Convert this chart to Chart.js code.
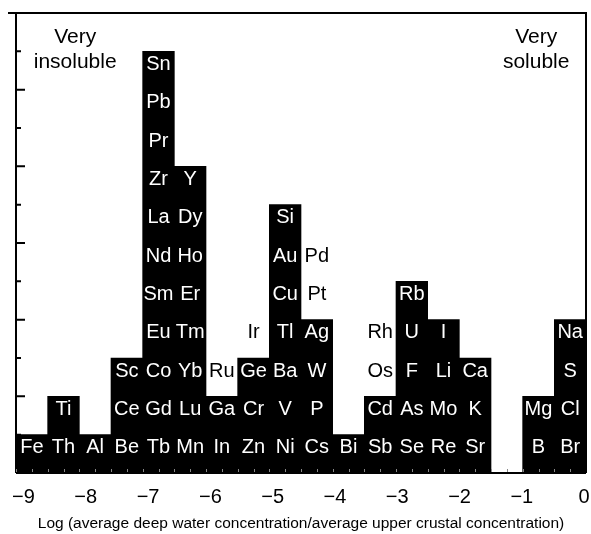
<!DOCTYPE html>
<html>
<head>
<meta charset="utf-8">
<script src="https://cdn.jsdelivr.net/npm/chart.js@4"></script>
<style>
  html, body { margin: 0; padding: 0; background: #fff; }
</style>
</head>
<body>
<canvas id="chart" width="591" height="534"></canvas>
<script>
// Bins of the log ratio, left to right
const bins = ['1', '2', '3', '4', '5', '6', '7', '8', '9', '10', '11', '12', '13', '14', '15', '16', '17', '18'];
// Number of elements in each bin (black bars)
const counts = [1, 2, 1, 3, 11, 8, 2, 3, 7, 4, 1, 2, 5, 4, 3, 0, 2, 4];
// Elements inside each bar, bottom to top
const filled = [
  ['Fe'],
  ['Th', 'Ti'],
  ['Al'],
  ['Be', 'Ce', 'Sc'],
  ['Tb', 'Gd', 'Co', 'Eu', 'Sm', 'Nd', 'La', 'Zr', 'Pr', 'Pb', 'Sn'],
  ['Mn', 'Lu', 'Yb', 'Tm', 'Er', 'Ho', 'Dy', 'Y'],
  ['In', 'Ga'],
  ['Zn', 'Cr', 'Ge'],
  ['Ni', 'V', 'Ba', 'Tl', 'Cu', 'Au', 'Si'],
  ['Cs', 'P', 'W', 'Ag'],
  ['Bi'],
  ['Sb', 'Cd'],
  ['Se', 'As', 'F', 'U', 'Rb'],
  ['Re', 'Mo', 'Li', 'I'],
  ['Sr', 'K', 'Ca'],
  [],
  ['B', 'Mg'],
  ['Br', 'Cl', 'S', 'Na'],
];
// Elements written above the bars (open cells)
const open = [[], [], [], [], [], [], ['Ru'], ['Ir'], [], ['Pt', 'Pd'], [], ['Os', 'Rh'], [], [], [], [], [], []];
const xTicks = [-9, -8, -7, -6, -5, -4, -3, -2, -1, 0];
const yTicks = [1, 2, 3, 4, 5, 6, 7, 8, 9, 10, 11];

const FONT = '"Liberation Sans", Arial, sans-serif';

const cellLabels = {
  id: 'cellLabels',
  afterDatasetsDraw(chart) {
    const { ctx, scales: { x, y, x2 } } = chart;
    ctx.save();
    ctx.font = '20px ' + FONT;
    ctx.textAlign = 'center';
    ctx.textBaseline = 'middle';
    bins.forEach((b, i) => {
      const cx = x.getPixelForValue(i);
      ctx.fillStyle = '#fff';
      filled[i].forEach((el, r) => ctx.fillText(el, cx, y.getPixelForValue(r + 0.5) - 6));
      ctx.fillStyle = '#000';
      open[i].forEach((el, r) => ctx.fillText(el, cx, y.getPixelForValue(counts[i] + r + 0.5) - 6));
    });
    // side notes
    ctx.font = '21px ' + FONT;
    ctx.fillText('Very', x2.getPixelForValue(-8.17), 37);
    ctx.fillText('insoluble', x2.getPixelForValue(-8.17), 62);
    ctx.fillText('Very', x2.getPixelForValue(-0.77), 37);
    ctx.fillText('soluble', x2.getPixelForValue(-0.77), 62);
    ctx.restore();
  },
  afterDraw(chart) {
    const { ctx, chartArea: a, scales: { x, y } } = chart;
    ctx.save();
    ctx.strokeStyle = '#000';
    ctx.lineWidth = 2;
    ctx.beginPath();
    ctx.moveTo(8, a.top); ctx.lineTo(a.right + 1, a.top);
    ctx.moveTo(a.left, a.top); ctx.lineTo(a.left, a.bottom);
    ctx.moveTo(a.right, a.top); ctx.lineTo(a.right, a.bottom);
    ctx.moveTo(a.left, a.bottom); ctx.lineTo(a.right, a.bottom);
    yTicks.forEach(v => {
      const py = y.getPixelForValue(v);
      ctx.moveTo(a.left, py);
      ctx.lineTo(a.left + (v % 2 === 0 ? 9 : 5), py);
    });
    ctx.stroke();
    // faint minor ticks along the bottom
    ctx.strokeStyle = '#888';
    ctx.lineWidth = 1;
    ctx.beginPath();
    for (let i = 0; i < bins.length; i++) {
      for (const d of [-0.5, 0]) {
        const px = Math.round(x.getPixelForValue(i + d)) + 0.5;
        ctx.moveTo(px, a.bottom - 1);
        ctx.lineTo(px, a.bottom - 4);
      }
    }
    ctx.stroke();
    ctx.restore();
  }
};

new Chart(document.getElementById('chart'), {
  type: 'bar',
  data: {
    labels: bins,
    datasets: [{
      data: counts,
      backgroundColor: '#000',
      borderWidth: 0,
      barPercentage: 1,
      categoryPercentage: 1,
    }],
  },
  options: {
    responsive: false,
    animation: false,
    devicePixelRatio: 1,
    layout: { padding: { left: 16, right: 5, top: 13, bottom: 0 } },
    plugins: { legend: { display: false }, tooltip: { enabled: false } },
    scales: {
      x: { type: 'category', display: false },
      y: { min: 0, max: 12, display: false },
      x2: {
        type: 'linear',
        position: 'bottom',
        offset: false,
        min: -9.12,
        max: 0.03,
        afterBuildTicks: s => { s.ticks = xTicks.map(v => ({ value: v })); },
        afterFit: s => { s.height = 61; s.paddingLeft = 0; s.paddingRight = 0; },
        grid: { display: false, drawTicks: false, tickLength: 0 },
        border: { display: false },
        ticks: {
          color: '#000',
          padding: 12,
          maxRotation: 0,
          autoSkip: false,
          font: { family: FONT, size: 20 },
          callback: v => (v < 0 ? '\u2212' + Math.abs(v) : String(v)),
        },
        title: {
          display: true,
          text: 'Log (average deep water concentration/average upper crustal concentration)',
          color: '#000',
          font: { family: FONT, size: 15.5 },
          padding: { top: 0, bottom: 1 },
        },
      },
    },
  },
  plugins: [cellLabels],
});
</script>
</body>
</html>
